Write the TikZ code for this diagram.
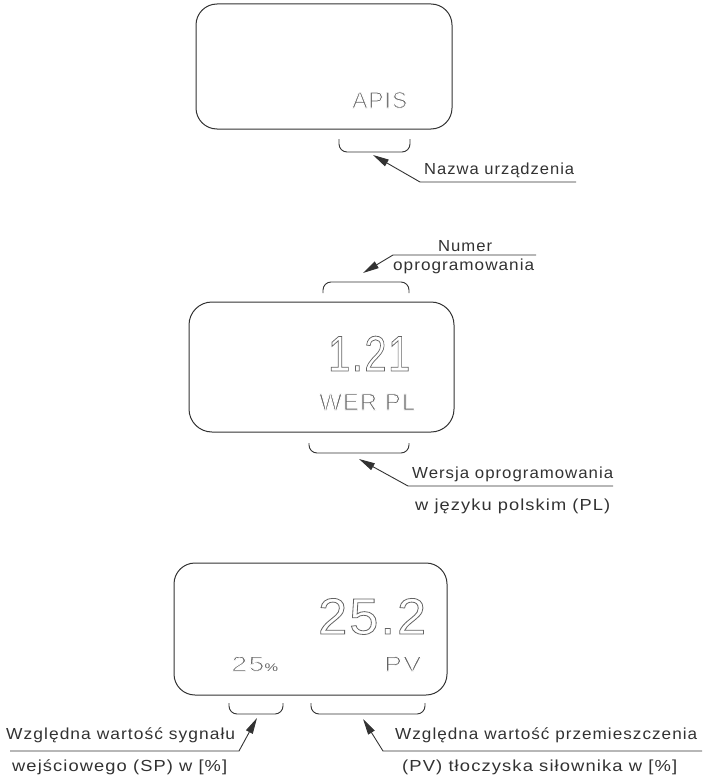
\documentclass[tikz,border=0pt]{standalone}
\usepackage{fontspec}
\usepackage{graphicx}
\usetikzlibrary{arrows.meta}
\setmainfont{Liberation Sans}
\newfontfamily\lblfont[LetterSpace=6]{Liberation Sans}
\newfontfamily\dispfont[LetterSpace=4]{Liberation Sans}
\newcommand{\fitw}[2]{\resizebox{#1pt}{\height}{#2}}
\newcommand{\outl}[1]{\special{pdf:literal direct 1 Tr 0.8 w}#1\special{pdf:literal direct 0 Tr}}
\newcommand{\thinner}[2]{\special{pdf:literal direct 2 Tr #1 w 1 G}#2\special{pdf:literal direct 0 Tr}}
\definecolor{ink}{RGB}{50,50,50}
\definecolor{disp}{RGB}{100,100,100}
\tikzset{
  disp box/.style={draw=ink, line width=1pt, rounded corners=21pt, inner sep=0pt},
  brace line/.style={draw=ink, line width=0.9pt, rounded corners=8pt},
  leader/.style={draw=ink, line width=0.9pt, -{Triangle[length=16pt,width=7.5pt]}},
  lbl/.style={anchor=base west, inner sep=0pt, text=ink, font=\lblfont\fontsize{16}{19}\selectfont},
  dsp/.style={anchor=base west, inner sep=0pt, text=disp},
}
\begin{document}
\begin{tikzpicture}[x=1pt,y=-1pt]
\path[use as bounding box] (0,0) rectangle (704,781);

% ---------- panel 1 ----------
\node[disp box, minimum width=256pt, minimum height=125pt] (box1) at (324,66.5) {};
\node[dsp, font=\dispfont\fontsize{23}{25}\selectfont] (apis) at (352,108) {\fitw{55}{\thinner{0.9}{APIS}}};
\draw[brace line] (339,139) -- (339,152) -- (410,152) -- (410,139);
\coordinate (e1) at (576,182);
\coordinate (k1) at (420,182);
\coordinate (t1) at (373,155);
\draw[leader] (e1) -- (k1) -- (t1);
\node[lbl] (l1) at (424,174) {\fitw{150}{Nazwa urządzenia}};

% ---------- panel 2 ----------
\node[disp box, rounded corners=23pt, minimum width=265pt, minimum height=130pt] (box2) at (321.5,367) {};
\node[dsp, font=\dispfont\fontsize{50}{52}\selectfont] (ver) at (328,371) {\fitw{82}{\outl{1.21}}};
\node[dsp, font=\dispfont\fontsize{23.5}{25}\selectfont] (werpl) at (319,410) {\fitw{96}{\thinner{0.9}{WER PL}}};
\draw[brace line] (323,293) -- (323,282) -- (409,282) -- (409,293);
\coordinate (e2) at (536,255);
\coordinate (k2) at (393,255);
\coordinate (t2) at (363,273);
\draw[leader] (e2) -- (k2) -- (t2);
\node[lbl] (l2) at (438,251) {\fitw{54}{Numer}};
\node[lbl] (l3) at (393,270) {\fitw{141}{oprogramowania}};
\draw[brace line] (309,443) -- (309,453) -- (409,453) -- (409,443);
\coordinate (e3) at (613,486);
\coordinate (k3) at (408,486);
\coordinate (t3) at (359,459);
\draw[leader] (e3) -- (k3) -- (t3);
\node[lbl] (l4) at (412,478) {\fitw{201}{Wersja oprogramowania}};
\node[lbl] (l5) at (415,510) {\fitw{195}{w języku polskim (PL)}};

% ---------- panel 3 ----------
\node[disp box, minimum width=273pt, minimum height=132pt] (box3) at (310.5,629) {};
\node[dsp, font=\dispfont\fontsize{51}{53}\selectfont] (val) at (318,634) {\fitw{108}{\outl{25.2}}};
\node[dsp, font=\dispfont\fontsize{21}{23}\selectfont] (sp) at (231,671) {\fitw{47}{\thinner{0.8}{25}{\fontsize{11}{12}\selectfont\%}}};
\node[dsp, font=\dispfont\fontsize{21}{23}\selectfont] (pv) at (384,671) {\fitw{37}{\thinner{0.8}{PV}}};
\draw[brace line] (229,703) -- (229,714) -- (283,714) -- (283,703);
\draw[brace line] (311,703) -- (311,714) -- (425,714) -- (425,703);
\coordinate (e4) at (10,751);
\coordinate (k4) at (239,751);
\coordinate (t4) at (257,718);
\draw[leader] (e4) -- (k4) -- (t4);
\coordinate (e5) at (702,751);
\coordinate (k5) at (383,751);
\coordinate (t5) at (363,719);
\draw[leader] (e5) -- (k5) -- (t5);
\node[lbl] (l6) at (6,739) {\fitw{229}{Względna wartość sygnału}};
\node[lbl] (l7) at (12,771) {\fitw{215}{wejściowego (SP) w [\%]}};
\node[lbl] (l8) at (395,739) {\fitw{302}{Względna wartość przemieszczenia}};
\node[lbl] (l9) at (402,771) {\fitw{275}{(PV) tłoczyska siłownika w [\%]}};
\end{tikzpicture}
\end{document}
